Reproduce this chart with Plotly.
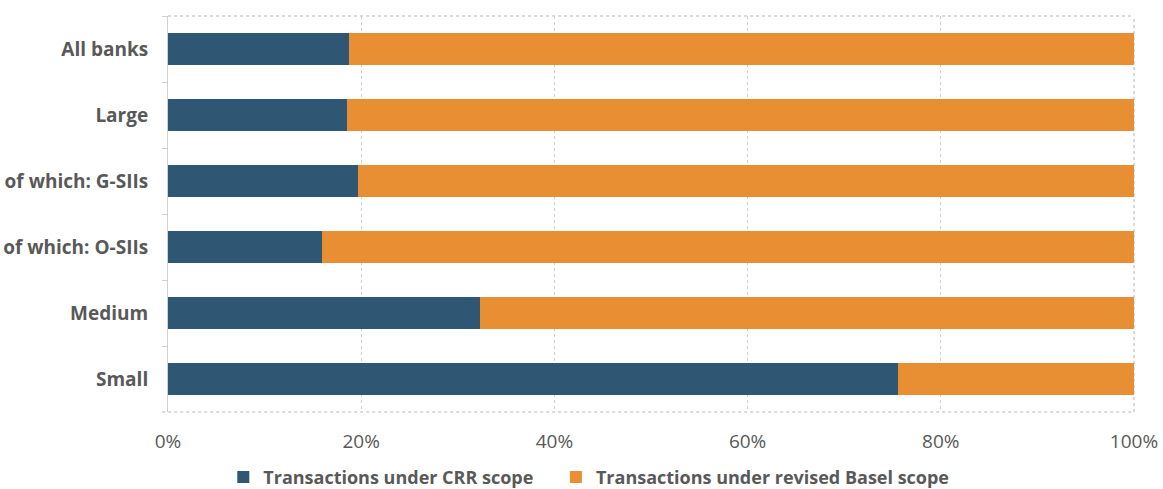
import plotly.graph_objects as go

categories = ["All banks", "Large", "of which: G-SIIs", "of which: O-SIIs", "Medium", "Small"]
crr_scope = [18.7, 18.5, 19.7, 15.9, 32.3, 75.6]
basel_scope = [round(100 - v, 1) for v in crr_scope]
x_ticks = [0, 20, 40, 60, 80, 100]
x_tick_labels = ["0%", "20%", "40%", "60%", "80%", "100%"]

DARK = "#2F5673"
ORANGE = "#E98F33"
GRID = "#D0D0D0"
TEXT = "#595959"
FONT = "Open Sans"

fig = go.Figure()
fig.add_trace(go.Bar(
    y=categories, x=crr_scope, orientation="h",
    name="Transactions under CRR scope",
    marker=dict(color=DARK, line=dict(width=0)),
    legend="legend",
))
fig.add_trace(go.Bar(
    y=categories, x=basel_scope, orientation="h",
    name="Transactions under revised Basel scope",
    marker=dict(color=ORANGE, line=dict(width=0)),
    legend="legend2",
))

legend_style = dict(
    orientation="h", xref="container", yref="container",
    xanchor="left", y=0.024, yanchor="middle",
    font=dict(family=FONT, size=18, color=TEXT, weight="bold"),
    itemwidth=30, bgcolor="rgba(0,0,0,0)",
)

fig.update_layout(
    barmode="stack",
    bargap=0.515,
    width=1163, height=489,
    margin=dict(l=168, r=29, t=16, b=77, autoexpand=False),
    plot_bgcolor="white", paper_bgcolor="white",
    font=dict(family=FONT, color=TEXT, size=18),
    legend=dict(x=0.192, **legend_style),
    legend2=dict(x=0.478, **legend_style),
    xaxis=dict(
        range=[0, 100], tickvals=x_ticks, ticktext=x_tick_labels,
        showgrid=True, gridcolor=GRID, griddash="dot", gridwidth=1,
        zeroline=False, showline=False, ticks="",
        ticklabelstandoff=16, automargin=False,
        tickfont=dict(family=FONT, size=19, color=TEXT),
        fixedrange=True,
    ),
    yaxis=dict(
        categoryorder="array", categoryarray=categories, autorange="reversed",
        showline=True, linecolor=GRID, linewidth=1,
        ticks="outside", tickson="boundaries", ticklen=5, tickcolor=GRID,
        ticklabelstandoff=15, automargin=False,
        tickfont=dict(family=FONT, size=19, color=TEXT, weight="bold"),
        showgrid=False,
    ),
    showlegend=True,
)

# dotted frame around the plot area
for x0, y0, x1, y1 in [(0, 1, 1, 1), (1, 0, 1, 1), (-0.006, 0, 1, 0)]:
    fig.add_shape(type="line", xref="paper", yref="paper",
                  x0=x0, y0=y0, x1=x1, y1=y1,
                  line=dict(color=GRID, width=1.5, dash="dot"), layer="below")

fig.write_html("out.html")
